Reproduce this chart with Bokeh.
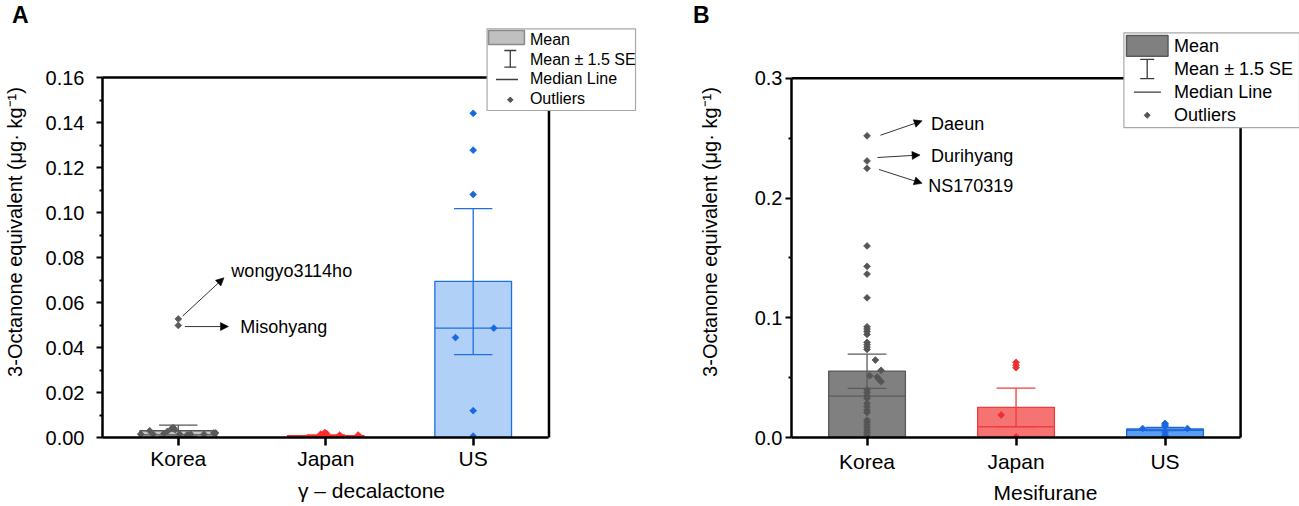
import numpy as np
from bokeh.plotting import figure
from bokeh.layouts import row, column
from bokeh.models import (Range1d, FixedTicker, PrintfTickFormatter, BoxAnnotation,
                          PolyAnnotation, Label, Arrow, NormalHead, ColumnDataSource, Div)
from bokeh.embed import file_html
from bokeh.resources import INLINE
from bokeh.core.properties import value

FONT = "Liberation Sans"

categories = ["Korea", "Japan", "US"]

# ---------------- Panel A : gamma-decalactone ----------------
a_mean = [0.0030, 0.0008, 0.0694]
a_se_low = [0.0005, 0.0004, 0.0368]
a_se_high = [0.0055, 0.0012, 0.1017]
a_median = [0.0012, 0.0006, 0.0486]
a_korea_vals = [0.0015, 0.0030, 0.0015, 0.0018, 0.0027, 0.0040, 0.0044, 0.0034,
                0.0015, 0.0012, 0.0015, 0.0015, 0.0020, 0.0020, 0.0527, 0.0498]
a_korea_offs = [-0.255, -0.194, -0.171, -0.097, -0.074, -0.045, -0.034, -0.022,
                0.009, 0.061, 0.083, 0.174, 0.241, 0.252, 0.0, 0.0]
a_japan_vals = [0.0015, 0.0022, 0.0018, 0.0011, 0.0011]
a_japan_offs = [-0.034, -0.007, 0.005, 0.095, 0.22]
a_us_vals = [0.1441, 0.1277, 0.1080, 0.0486, 0.0444, 0.0119, 0.0006]
a_us_offs = [0.0, 0.0, 0.0, 0.14, -0.12, 0.0, 0.0]
a_ann_names = ["wongyo3114ho", "Misohyang"]
a_ann_vals = [0.0527, 0.0498]
a_yticks = [0.00, 0.02, 0.04, 0.06, 0.08, 0.10, 0.12, 0.14, 0.16]
a_yminor = [0.01, 0.03, 0.05, 0.07, 0.09, 0.11, 0.13, 0.15]

# ---------------- Panel B : Mesifurane ----------------
b_mean = [0.0555, 0.0252, 0.0071]
b_se_low = [0.0410, 0.0091, 0.0057]
b_se_high = [0.0697, 0.0413, 0.0085]
b_median = [0.0346, 0.0090, 0.0060]
b_korea_vals = [0.2520, 0.2310, 0.2249, 0.1600, 0.1430, 0.1365, 0.1167, 0.0925, 0.0906,
                0.0886, 0.0861, 0.0795, 0.0775, 0.0755, 0.0736, 0.0647, 0.0561, 0.0516,
                0.0505, 0.0486, 0.0466, 0.0397, 0.0374, 0.0349, 0.0327, 0.0285, 0.0257,
                0.0230, 0.0208, 0.0146, 0.0127, 0.0104, 0.0085, 0.0063, 0.0043, 0.0021]
b_korea_offs = [0.0] * 15 + [0.056, 0.094, 0.018, 0.068, 0.081, 0.094] + [0.0] * 15
b_japan_vals = [0.0628, 0.0605, 0.0583, 0.0188, 0.0005]
b_japan_offs = [0.0, 0.0, 0.0, -0.10, 0.0]
b_us_vals = [0.0118, 0.0105, 0.0096, 0.0075, 0.0075, 0.0045, 0.0020, 0.0010]
b_us_offs = [0.0, 0.0, 0.0, -0.15, 0.15, 0.0, 0.0, 0.0]
b_ann_names = ["Daeun", "Durihyang", "NS170319"]
b_ann_vals = [0.2520, 0.2310, 0.2249]
b_yticks = [0.0, 0.1, 0.2, 0.3]
b_yminor = [0.05, 0.15, 0.25]

legend_labels = ["Mean", "Mean \u00b1 1.5 SE", "Median Line", "Outliers"]
YLABEL = "3-Octanone equivalent (\u03bcg\u00b7 kg\u207b\u00b9)"

TOP = 26        # height of the letter strip above each figure
FIG_H = 480     # figure height (TOP + FIG_H = 506)
ICON = "#3c3c3c"


def panel(fig_w, ox, geo, ymax, yticks, yminor, yfmt, xlabel, letter, letter_pad,
          mean, lo, hi, med, vals_list, offs_list, fills, lines, ptcols, bar_w,
          ann_names, ann_vals, ann_start_dx, ann_end, ann_text, leg, leg_cols,
          y_std, y_als, x_std, x_als):
    # geo: page px of frame left, frame right, x0 value, px per x unit, page y of 0, px per y unit
    fx0, fx1, x0, xu, fyb, yu = geo

    def dx(px):
        return x0 + (px - fx0) / xu

    def dy(py):
        return (fyb - py) / yu

    x_end = dx(fx1)
    y_end = dy(TOP)
    xr = (len(categories) + 1) - x0  # symmetric margin: right edge of the visible box
    p = figure(width=fig_w, height=FIG_H, x_range=Range1d(x0, x_end), y_range=Range1d(0, y_end),
               output_backend="svg", toolbar_location=None, tools="", title=None,
               min_border_left=int(round(fx0 - ox)), min_border_right=int(round(ox + fig_w - fx1)),
               min_border_top=0, min_border_bottom=int(round(TOP + FIG_H - fyb)))
    p.outline_line_color = None
    p.grid.visible = False
    p.background_fill_color = "white"
    p.border_fill_color = "white"

    pos = [i + 1 for i in range(len(categories))]

    # axes
    xa = p.xaxis[0]
    xa.ticker = FixedTicker(ticks=pos)
    xa.bounds = (x0, xr)
    xa.major_label_overrides = {k: c for k, c in zip(pos, categories)}
    xa.minor_tick_line_color = None
    xa.major_tick_in = 0
    xa.major_tick_out = 8
    xa.major_tick_line_width = 2.5
    xa.axis_line_width = 2.5
    xa.major_label_text_font = FONT
    xa.major_label_text_font_size = "21px"
    xa.major_label_text_color = "black"
    xa.major_label_standoff = x_std
    xa.axis_label = xlabel
    xa.axis_label_text_font = FONT
    xa.axis_label_text_font_size = "21px"
    xa.axis_label_text_font_style = "normal"
    xa.axis_label_text_color = "black"
    xa.axis_label_standoff = x_als

    ya = p.yaxis[0]
    ya.ticker = FixedTicker(ticks=yticks, minor_ticks=yminor)
    ya.bounds = (0, ymax)
    ya.formatter = PrintfTickFormatter(format=yfmt)
    ya.major_tick_in = 0
    ya.major_tick_out = 6
    ya.minor_tick_in = 0
    ya.minor_tick_out = 3
    ya.major_tick_line_width = 2
    ya.minor_tick_line_width = 2
    ya.axis_line_width = 2.5
    ya.major_label_text_font = FONT
    ya.major_label_text_font_size = "20px"
    ya.major_label_text_color = "black"
    ya.major_label_standoff = y_std
    ya.axis_label = YLABEL
    ya.axis_label_text_font = FONT
    ya.axis_label_text_font_size = "20px"
    ya.axis_label_text_font_style = "normal"
    ya.axis_label_text_color = "black"
    ya.axis_label_standoff = y_als

    # top and right frame border
    p.segment(x0=[x0, xr], y0=[ymax, 0], x1=[xr, xr], y1=[ymax, ymax],
              line_color="black", line_width=2.5, line_cap="square")

    # bars
    p.vbar(x=pos, width=bar_w, top=mean, bottom=0, fill_color=fills, line_color=lines,
           line_width=1.3)
    # median lines
    p.segment(x0=[x - bar_w / 2 for x in pos], x1=[x + bar_w / 2 for x in pos],
              y0=med, y1=med, line_color=lines, line_width=1.3)
    # error bars (mean +/- 1.5 SE)
    cap = 0.13
    p.segment(x0=pos, x1=pos, y0=lo, y1=hi, line_color=lines, line_width=1.3)
    p.segment(x0=[x - cap for x in pos], x1=[x + cap for x in pos], y0=hi, y1=hi,
              line_color=lines, line_width=1.3)
    p.segment(x0=[x - cap for x in pos], x1=[x + cap for x in pos], y0=lo, y1=lo,
              line_color=lines, line_width=1.3)
    # points
    for x, vals, offs, c in zip(pos, vals_list, offs_list, ptcols):
        p.scatter(x=[x + o for o in offs], y=vals, marker="square", angle=np.pi / 4,
                  size=4.8, fill_color=c, line_color=c, line_width=0.8)

    # annotations (arrows + names)
    for name, v, sdx, (ex, ey) in zip(ann_names, ann_vals, ann_start_dx, ann_end):
        p.add_layout(Arrow(x_start=1 + sdx[0], y_start=v + sdx[1], x_end=ex, y_end=ey,
                           line_color="black", line_width=0.8,
                           end=NormalHead(size=8, fill_color="black", line_color="black",
                                          line_width=0.5)))
    src = ColumnDataSource(dict(x=[t[0] for t in ann_text], y=[t[1] for t in ann_text],
                                text=ann_names))
    p.text(x="x", y="y", text="text", source=src, text_font=value(FONT),
           text_font_size="18px", text_baseline="middle", text_align="left",
           text_color="black")

    # legend (drawn manually, sits over the frame corner)
    bl, br, bt, bb = leg["box"]
    p.add_layout(BoxAnnotation(left=dx(bl), right=dx(br), top=dy(bt), bottom=dy(bb),
                               fill_color="white", fill_alpha=1, line_color="#a8a8a8",
                               line_alpha=1, line_width=1.2, level="overlay"))
    pl, pr, pt, pb = leg["patch"]
    p.add_layout(BoxAnnotation(left=dx(pl), right=dx(pr), top=dy(pt), bottom=dy(pb),
                               fill_color=leg_cols[0], fill_alpha=1, line_color=leg_cols[1],
                               line_alpha=1, line_width=1.5, level="overlay"))
    ix, iyt, iyb, ich = leg["ibeam"]
    for xs, ys in ([[ix, ix], [iyt, iyb]], [[ix - ich, ix + ich], [iyt, iyt]],
                   [[ix - ich, ix + ich], [iyb, iyb]]):
        p.add_layout(PolyAnnotation(xs=[dx(v) for v in xs], ys=[dy(v) for v in ys],
                                    fill_alpha=0, line_color=ICON, line_alpha=1,
                                    line_width=1.3, level="overlay"))
    mxl, mxr, my = leg["median"]
    p.add_layout(PolyAnnotation(xs=[dx(mxl), dx(mxr)], ys=[dy(my), dy(my)], fill_alpha=0,
                                line_color=ICON, line_alpha=1, line_width=1.3,
                                level="overlay"))
    ddx, ddy, dh = leg["diamond"]
    p.add_layout(PolyAnnotation(xs=[dx(ddx), dx(ddx + dh), dx(ddx), dx(ddx - dh)],
                                ys=[dy(ddy - dh), dy(ddy), dy(ddy + dh), dy(ddy)],
                                fill_color="#555555", fill_alpha=1, line_color="#555555",
                                line_alpha=1, line_width=1, level="overlay"))
    for lab, ry in zip(legend_labels, leg["rows"]):
        p.add_layout(Label(x=dx(leg["text_x"]), y=dy(ry), text=lab, text_font=FONT,
                           text_font_size=leg["font"], text_baseline="middle",
                           text_align="left", text_color="black", level="overlay"))

    div = Div(text=letter, width=fig_w, height=TOP, margin=0,
              styles={"font-family": "Liberation Sans, Arial, sans-serif",
                      "font-weight": "bold", "font-size": "23px", "line-height": "30px",
                      "padding-left": f"{letter_pad}px", "color": "black",
                      "box-sizing": "border-box", "overflow": "visible"})
    return column(div, p, margin=0, spacing=0)


colA = panel(650, 0, (100, 640, 0.486, 148.0, 437, 2250.0), 0.16, a_yticks, a_yminor, "%.2f",
             "\u03b3 \u2013 decalactone", "A", 12,
             a_mean, a_se_low, a_se_high, a_median,
             [a_korea_vals, a_japan_vals, a_us_vals], [a_korea_offs, a_japan_offs, a_us_offs],
             ["#c6c6c6", "#ff9a9a", "#b0d0f7"], ["#555555", "#ff2a2a", "#1f6fe0"],
             ["#5a5a5a", "#ff2a2a", "#1668e3"], 0.52,
             a_ann_names, a_ann_vals, [(0.03, 0.0013), (0.045, -0.0005)],
             [(1.31, 0.071), (1.34, 0.0493)], [(1.36, 0.0739), (1.42, 0.0490)],
             dict(box=(486, 635, 28.3, 110), patch=(487.5, 523.5, 30, 44), text_x=529,
                  rows=[39, 59.3, 78.3, 98.3], ibeam=(509.3, 50, 66.7, 6),
                  median=(495, 517, 79), diamond=(509.3, 99.3, 2.8), font="16px"),
             ("#c0c0c0", "#8a8a8a"),
             12, 17, 1, 6)

colB = panel(649, 650, (791, 1299, 0.493, 149.0, 438, 1200.0), 0.3, b_yticks, b_yminor, "%.1f",
             "Mesifurane", "B", 43,
             b_mean, b_se_low, b_se_high, b_median,
             [b_korea_vals, b_japan_vals, b_us_vals], [b_korea_offs, b_japan_offs, b_us_offs],
             ["#808080", "#f67373", "#5c9ff2"], ["#5a5a5a", "#f03c3c", "#1c68d8"],
             ["#555555", "#ee2f2f", "#1a66e0"], 0.515,
             b_ann_names, b_ann_vals, [(0.09, 0.0005), (0.07, 0.0029), (0.08, -0.001)],
             [(1.37, 0.2645), (1.356, 0.2360), (1.37, 0.2123)],
             [(1.43, 0.2622), (1.43, 0.2350), (1.41, 0.2100)],
             dict(box=(1123.4, 1299, 32.3, 127.3), patch=(1126, 1167.5, 35, 55.7), text_x=1173.6,
                  rows=[45.7, 68.3, 91.7, 115], ibeam=(1146.7, 59, 78.3, 7),
                  median=(1133.4, 1160.4, 91.7), diamond=(1146.7, 115, 3), font="18px"),
             ("#808080", "#5a5a5a"),
             3, 31, 4, 5)

layout = row(colA, colB, margin=0, spacing=0)
open("out.html", "w").write(file_html(layout, INLINE))
